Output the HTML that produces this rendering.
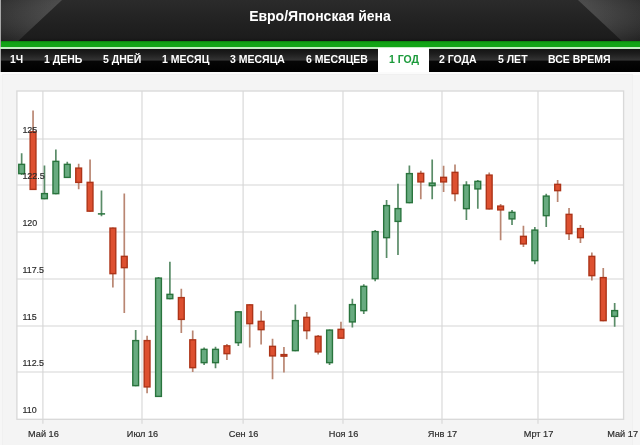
<!DOCTYPE html>
<html lang="ru"><head><meta charset="utf-8"><title>Евро/Японская йена</title>
<style>
html,body{margin:0;padding:0}
body{width:640px;height:445px;overflow:hidden;background:#f6f6f6;font-family:"Liberation Sans",sans-serif;position:relative}
.hdr{position:absolute;left:1px;top:0;width:639px;height:42px;background:linear-gradient(#2b2b2b,#222 50%,#1c1c1c 90%,#131313 100%);overflow:hidden}
.hdr svg{position:absolute;left:0;top:0}
.ttl{will-change:transform;position:absolute;left:0;top:8px;width:640px;text-align:center;color:#fff;font-weight:bold;font-size:14px;line-height:17px}
.grn{position:absolute;left:1px;top:41.4px;width:639px;height:5.5px;background:linear-gradient(#0c800e 0%,#12a416 30%,#12a416 100%)}
.wl{position:absolute;left:0;top:46.9px;width:640px;height:1.8px;background:#c4efc4}
.nav{position:absolute;left:1px;top:48.6px;width:639px;height:23.4px;background:linear-gradient(#131313 0%,#1d1d1d 20%,#333 48%,#060606 53%,#000 100%)}
.nav span{will-change:transform;position:absolute;top:0;height:23.4px;line-height:21.5px;color:#fff;font-weight:bold;font-size:10.5px;white-space:nowrap}
.nav span.act{color:#1a9a3a}
.actbg{position:absolute;left:378px;top:47.5px;width:51px;height:25px;background:#fff}
.panel{position:absolute;left:2px;top:74px;width:629px;height:372px;background:#f4f4f4;border:1px solid #f0f0f0}
.wstrip{position:absolute;left:0;top:72px;width:640px;height:3px;background:#fbfbfb}
.chart{position:absolute;left:0;top:75px;will-change:transform}
.lab{font-family:"Liberation Sans",sans-serif;font-size:9.9px;fill:#2c2c2c;stroke:#2c2c2c;stroke-width:0.2px}
</style></head><body>
<div style="position:absolute;left:0;top:0;width:1px;height:72px;background:#a8a8a8"></div>
<div class="hdr">
<svg width="639" height="42" viewBox="1 0 639 42">
<defs>
<linearGradient id="sl" x1="0" y1="0" x2="1" y2="0"><stop offset="0" stop-color="#2a2a2a"/><stop offset="1" stop-color="#474747"/></linearGradient>
<linearGradient id="sr" x1="1" y1="0" x2="0" y2="0"><stop offset="0" stop-color="#2a2a2a"/><stop offset="1" stop-color="#474747"/></linearGradient>
<linearGradient id="sv" x1="0" y1="0" x2="0" y2="1"><stop offset="0" stop-color="#fff" stop-opacity="0.03"/><stop offset="1" stop-color="#000" stop-opacity="0.22"/></linearGradient>
</defs>
<polygon points="0,0 62,0 17,42 0,42" fill="url(#sl)"/>
<polygon points="640,0 578,0 623,42 640,42" fill="url(#sr)"/>
<polygon points="0,0 62,0 17,42 0,42" fill="url(#sv)"/>
<polygon points="640,0 578,0 623,42 640,42" fill="url(#sv)"/>
</svg>
</div>
<div class="ttl">Евро/Японская йена</div>
<div class="grn"></div><div class="wl"></div>
<div class="nav"></div>
<div class="actbg"></div>
<div class="nav" style="background:none"><span style="left:9.4px">1Ч</span><span style="left:43.2px">1 ДЕНЬ</span><span style="left:102.3px">5 ДНЕЙ</span><span style="left:161.4px">1 МЕСЯЦ</span><span style="left:229.4px">3 МЕСЯЦА</span><span style="left:305.3px">6 МЕСЯЦЕВ</span><span class="act" style="left:388.2px">1 ГОД</span><span style="left:438.4px">2 ГОДА</span><span style="left:496.5px">5 ЛЕТ</span><span style="left:546.6px">ВСЕ ВРЕМЯ</span></div>
<div class="wstrip"></div>
<div class="panel"></div>
<svg class="chart" width="640" height="370" viewBox="0 75 640 370">
<rect x="16.9" y="91.0" width="606.7" height="328.3" fill="#fff"/>
<line x1="16.9" y1="139.0" x2="623.6" y2="139.0" stroke="#d6d6d6" stroke-width="1.1"/>
<line x1="16.9" y1="185.0" x2="623.6" y2="185.0" stroke="#d6d6d6" stroke-width="1.1"/>
<line x1="16.9" y1="232.0" x2="623.6" y2="232.0" stroke="#d6d6d6" stroke-width="1.1"/>
<line x1="16.9" y1="279.0" x2="623.6" y2="279.0" stroke="#d6d6d6" stroke-width="1.1"/>
<line x1="16.9" y1="326.0" x2="623.6" y2="326.0" stroke="#d6d6d6" stroke-width="1.1"/>
<line x1="16.9" y1="372.0" x2="623.6" y2="372.0" stroke="#d6d6d6" stroke-width="1.1"/>
<line x1="42.9" y1="91.0" x2="42.9" y2="423.8" stroke="#d6d6d6" stroke-width="1.1"/>
<line x1="142.0" y1="91.0" x2="142.0" y2="423.8" stroke="#d6d6d6" stroke-width="1.1"/>
<line x1="243.1" y1="91.0" x2="243.1" y2="423.8" stroke="#d6d6d6" stroke-width="1.1"/>
<line x1="343.0" y1="91.0" x2="343.0" y2="423.8" stroke="#d6d6d6" stroke-width="1.1"/>
<line x1="442.0" y1="91.0" x2="442.0" y2="423.8" stroke="#d6d6d6" stroke-width="1.1"/>
<line x1="538.0" y1="91.0" x2="538.0" y2="423.8" stroke="#d6d6d6" stroke-width="1.1"/>
<rect x="16.9" y="91.0" width="606.7" height="328.3" fill="none" stroke="#d9d9d9" stroke-width="1.35"/>
<line x1="21.65" y1="153.25" x2="21.65" y2="175" stroke="#5a8c68" stroke-width="1.7"/>
<rect x="18.75" y="164.35" width="5.8" height="9.30" fill="#68ab80" stroke="#29743d" stroke-width="1.4"/>
<line x1="33.05" y1="110.5" x2="33.05" y2="190" stroke="#b98672" stroke-width="1.7"/>
<rect x="30.15" y="131.85" width="5.8" height="57.55" fill="#dd5030" stroke="#ad3418" stroke-width="1.4"/>
<line x1="44.46" y1="165.5" x2="44.46" y2="199.25" stroke="#5a8c68" stroke-width="1.7"/>
<rect x="41.56" y="193.60" width="5.8" height="5.05" fill="#68ab80" stroke="#29743d" stroke-width="1.4"/>
<line x1="55.86" y1="149.5" x2="55.86" y2="194.25" stroke="#5a8c68" stroke-width="1.7"/>
<rect x="52.96" y="161.35" width="5.8" height="32.30" fill="#68ab80" stroke="#29743d" stroke-width="1.4"/>
<line x1="67.27" y1="161.75" x2="67.27" y2="178" stroke="#5a8c68" stroke-width="1.7"/>
<rect x="64.37" y="164.35" width="5.8" height="13.05" fill="#68ab80" stroke="#29743d" stroke-width="1.4"/>
<line x1="78.67" y1="163.75" x2="78.67" y2="189.25" stroke="#b98672" stroke-width="1.7"/>
<rect x="75.77" y="168.10" width="5.8" height="14.30" fill="#dd5030" stroke="#ad3418" stroke-width="1.4"/>
<line x1="90.07" y1="159.5" x2="90.07" y2="211.75" stroke="#b98672" stroke-width="1.7"/>
<rect x="87.17" y="182.35" width="5.8" height="28.80" fill="#dd5030" stroke="#ad3418" stroke-width="1.4"/>
<line x1="101.48" y1="190.5" x2="101.48" y2="216.25" stroke="#5a8c68" stroke-width="1.7"/>
<rect x="98.58" y="213.85" width="5.8" height="0.10" fill="#68ab80" stroke="#29743d" stroke-width="1.4"/>
<line x1="112.88" y1="227.5" x2="112.88" y2="287.5" stroke="#b98672" stroke-width="1.7"/>
<rect x="109.98" y="228.10" width="5.8" height="45.55" fill="#dd5030" stroke="#ad3418" stroke-width="1.4"/>
<line x1="124.29" y1="193.5" x2="124.29" y2="313" stroke="#b98672" stroke-width="1.7"/>
<rect x="121.39" y="256.35" width="5.8" height="11.30" fill="#dd5030" stroke="#ad3418" stroke-width="1.4"/>
<line x1="135.69" y1="330" x2="135.69" y2="386.25" stroke="#5a8c68" stroke-width="1.7"/>
<rect x="132.79" y="340.60" width="5.8" height="45.05" fill="#68ab80" stroke="#29743d" stroke-width="1.4"/>
<line x1="147.09" y1="335.75" x2="147.09" y2="393.25" stroke="#b98672" stroke-width="1.7"/>
<rect x="144.19" y="340.60" width="5.8" height="46.30" fill="#dd5030" stroke="#ad3418" stroke-width="1.4"/>
<line x1="158.50" y1="277" x2="158.50" y2="397" stroke="#5a8c68" stroke-width="1.7"/>
<rect x="155.60" y="278.10" width="5.8" height="118.30" fill="#68ab80" stroke="#29743d" stroke-width="1.4"/>
<line x1="169.90" y1="261.75" x2="169.90" y2="299.25" stroke="#5a8c68" stroke-width="1.7"/>
<rect x="167.00" y="294.35" width="5.8" height="4.30" fill="#68ab80" stroke="#29743d" stroke-width="1.4"/>
<line x1="181.31" y1="288.75" x2="181.31" y2="333" stroke="#b98672" stroke-width="1.7"/>
<rect x="178.41" y="297.60" width="5.8" height="21.80" fill="#dd5030" stroke="#ad3418" stroke-width="1.4"/>
<line x1="192.71" y1="330.5" x2="192.71" y2="372" stroke="#b98672" stroke-width="1.7"/>
<rect x="189.81" y="339.85" width="5.8" height="27.80" fill="#dd5030" stroke="#ad3418" stroke-width="1.4"/>
<line x1="204.11" y1="347.5" x2="204.11" y2="365" stroke="#5a8c68" stroke-width="1.7"/>
<rect x="201.21" y="349.35" width="5.8" height="13.30" fill="#68ab80" stroke="#29743d" stroke-width="1.4"/>
<line x1="215.52" y1="346.75" x2="215.52" y2="368.25" stroke="#5a8c68" stroke-width="1.7"/>
<rect x="212.62" y="349.35" width="5.8" height="13.30" fill="#68ab80" stroke="#29743d" stroke-width="1.4"/>
<line x1="226.92" y1="344" x2="226.92" y2="360" stroke="#b98672" stroke-width="1.7"/>
<rect x="224.02" y="345.85" width="5.8" height="7.80" fill="#dd5030" stroke="#ad3418" stroke-width="1.4"/>
<line x1="238.33" y1="311.25" x2="238.33" y2="346" stroke="#5a8c68" stroke-width="1.7"/>
<rect x="235.43" y="311.85" width="5.8" height="30.80" fill="#68ab80" stroke="#29743d" stroke-width="1.4"/>
<line x1="249.73" y1="304.25" x2="249.73" y2="347.5" stroke="#b98672" stroke-width="1.7"/>
<rect x="246.83" y="304.85" width="5.8" height="18.80" fill="#dd5030" stroke="#ad3418" stroke-width="1.4"/>
<line x1="261.13" y1="310.75" x2="261.13" y2="344.5" stroke="#b98672" stroke-width="1.7"/>
<rect x="258.23" y="321.35" width="5.8" height="8.30" fill="#dd5030" stroke="#ad3418" stroke-width="1.4"/>
<line x1="272.54" y1="338.75" x2="272.54" y2="379.25" stroke="#b98672" stroke-width="1.7"/>
<rect x="269.64" y="346.35" width="5.8" height="9.55" fill="#dd5030" stroke="#ad3418" stroke-width="1.4"/>
<line x1="283.94" y1="347" x2="283.94" y2="372.5" stroke="#b98672" stroke-width="1.7"/>
<rect x="281.04" y="354.60" width="5.8" height="1.55" fill="#dd5030" stroke="#ad3418" stroke-width="1.4"/>
<line x1="295.35" y1="304.5" x2="295.35" y2="351.25" stroke="#5a8c68" stroke-width="1.7"/>
<rect x="292.45" y="320.60" width="5.8" height="30.05" fill="#68ab80" stroke="#29743d" stroke-width="1.4"/>
<line x1="306.75" y1="312" x2="306.75" y2="339.25" stroke="#b98672" stroke-width="1.7"/>
<rect x="303.85" y="317.35" width="5.8" height="13.30" fill="#dd5030" stroke="#ad3418" stroke-width="1.4"/>
<line x1="318.15" y1="335" x2="318.15" y2="354.5" stroke="#b98672" stroke-width="1.7"/>
<rect x="315.25" y="336.35" width="5.8" height="15.55" fill="#dd5030" stroke="#ad3418" stroke-width="1.4"/>
<line x1="329.56" y1="329.5" x2="329.56" y2="365" stroke="#5a8c68" stroke-width="1.7"/>
<rect x="326.66" y="330.10" width="5.8" height="32.55" fill="#68ab80" stroke="#29743d" stroke-width="1.4"/>
<line x1="340.96" y1="321.75" x2="340.96" y2="338.75" stroke="#b98672" stroke-width="1.7"/>
<rect x="338.06" y="329.35" width="5.8" height="8.80" fill="#dd5030" stroke="#ad3418" stroke-width="1.4"/>
<line x1="352.37" y1="298.75" x2="352.37" y2="327.5" stroke="#5a8c68" stroke-width="1.7"/>
<rect x="349.47" y="304.60" width="5.8" height="17.30" fill="#68ab80" stroke="#29743d" stroke-width="1.4"/>
<line x1="363.77" y1="284.25" x2="363.77" y2="314" stroke="#5a8c68" stroke-width="1.7"/>
<rect x="360.87" y="286.35" width="5.8" height="24.30" fill="#68ab80" stroke="#29743d" stroke-width="1.4"/>
<line x1="375.17" y1="230" x2="375.17" y2="281.25" stroke="#5a8c68" stroke-width="1.7"/>
<rect x="372.27" y="231.60" width="5.8" height="47.05" fill="#68ab80" stroke="#29743d" stroke-width="1.4"/>
<line x1="386.58" y1="200" x2="386.58" y2="258" stroke="#5a8c68" stroke-width="1.7"/>
<rect x="383.68" y="205.60" width="5.8" height="32.05" fill="#68ab80" stroke="#29743d" stroke-width="1.4"/>
<line x1="397.98" y1="183.75" x2="397.98" y2="255" stroke="#5a8c68" stroke-width="1.7"/>
<rect x="395.08" y="208.60" width="5.8" height="12.80" fill="#68ab80" stroke="#29743d" stroke-width="1.4"/>
<line x1="409.39" y1="165.5" x2="409.39" y2="203.25" stroke="#5a8c68" stroke-width="1.7"/>
<rect x="406.49" y="173.60" width="5.8" height="29.05" fill="#68ab80" stroke="#29743d" stroke-width="1.4"/>
<line x1="420.79" y1="170.75" x2="420.79" y2="199.25" stroke="#b98672" stroke-width="1.7"/>
<rect x="417.89" y="173.35" width="5.8" height="8.55" fill="#dd5030" stroke="#ad3418" stroke-width="1.4"/>
<line x1="432.19" y1="159.5" x2="432.19" y2="199.25" stroke="#5a8c68" stroke-width="1.7"/>
<rect x="429.29" y="183.10" width="5.8" height="2.55" fill="#68ab80" stroke="#29743d" stroke-width="1.4"/>
<line x1="443.60" y1="165.75" x2="443.60" y2="192" stroke="#b98672" stroke-width="1.7"/>
<rect x="440.70" y="177.35" width="5.8" height="4.55" fill="#dd5030" stroke="#ad3418" stroke-width="1.4"/>
<line x1="455.00" y1="164.5" x2="455.00" y2="201.25" stroke="#b98672" stroke-width="1.7"/>
<rect x="452.10" y="172.35" width="5.8" height="21.30" fill="#dd5030" stroke="#ad3418" stroke-width="1.4"/>
<line x1="466.41" y1="181.25" x2="466.41" y2="220" stroke="#5a8c68" stroke-width="1.7"/>
<rect x="463.51" y="185.10" width="5.8" height="23.55" fill="#68ab80" stroke="#29743d" stroke-width="1.4"/>
<line x1="477.81" y1="180" x2="477.81" y2="208.75" stroke="#5a8c68" stroke-width="1.7"/>
<rect x="474.91" y="181.35" width="5.8" height="7.55" fill="#68ab80" stroke="#29743d" stroke-width="1.4"/>
<line x1="489.21" y1="172.5" x2="489.21" y2="209.5" stroke="#b98672" stroke-width="1.7"/>
<rect x="486.31" y="175.10" width="5.8" height="33.80" fill="#dd5030" stroke="#ad3418" stroke-width="1.4"/>
<line x1="500.62" y1="204" x2="500.62" y2="240.25" stroke="#b98672" stroke-width="1.7"/>
<rect x="497.72" y="206.10" width="5.8" height="3.80" fill="#dd5030" stroke="#ad3418" stroke-width="1.4"/>
<line x1="512.02" y1="210" x2="512.02" y2="225" stroke="#5a8c68" stroke-width="1.7"/>
<rect x="509.12" y="212.35" width="5.8" height="6.55" fill="#68ab80" stroke="#29743d" stroke-width="1.4"/>
<line x1="523.43" y1="225.75" x2="523.43" y2="247" stroke="#b98672" stroke-width="1.7"/>
<rect x="520.53" y="236.35" width="5.8" height="7.55" fill="#dd5030" stroke="#ad3418" stroke-width="1.4"/>
<line x1="534.83" y1="227" x2="534.83" y2="264.25" stroke="#5a8c68" stroke-width="1.7"/>
<rect x="531.93" y="230.10" width="5.8" height="30.55" fill="#68ab80" stroke="#29743d" stroke-width="1.4"/>
<line x1="546.23" y1="193.75" x2="546.23" y2="227" stroke="#5a8c68" stroke-width="1.7"/>
<rect x="543.33" y="196.10" width="5.8" height="19.55" fill="#68ab80" stroke="#29743d" stroke-width="1.4"/>
<line x1="557.64" y1="180" x2="557.64" y2="202" stroke="#b98672" stroke-width="1.7"/>
<rect x="554.74" y="184.35" width="5.8" height="6.30" fill="#dd5030" stroke="#ad3418" stroke-width="1.4"/>
<line x1="569.04" y1="208" x2="569.04" y2="240" stroke="#b98672" stroke-width="1.7"/>
<rect x="566.14" y="214.35" width="5.8" height="19.30" fill="#dd5030" stroke="#ad3418" stroke-width="1.4"/>
<line x1="580.45" y1="225" x2="580.45" y2="243" stroke="#b98672" stroke-width="1.7"/>
<rect x="577.55" y="228.60" width="5.8" height="9.05" fill="#dd5030" stroke="#ad3418" stroke-width="1.4"/>
<line x1="591.85" y1="252.5" x2="591.85" y2="280.5" stroke="#b98672" stroke-width="1.7"/>
<rect x="588.95" y="256.35" width="5.8" height="19.30" fill="#dd5030" stroke="#ad3418" stroke-width="1.4"/>
<line x1="603.25" y1="268" x2="603.25" y2="321.25" stroke="#b98672" stroke-width="1.7"/>
<rect x="600.35" y="277.60" width="5.8" height="43.05" fill="#dd5030" stroke="#ad3418" stroke-width="1.4"/>
<line x1="614.66" y1="303" x2="614.66" y2="326.75" stroke="#5a8c68" stroke-width="1.7"/>
<rect x="611.76" y="310.60" width="5.8" height="5.80" fill="#68ab80" stroke="#29743d" stroke-width="1.4"/>
<text transform="translate(22.4,133.1) scale(0.9,1)" class="lab">125</text>
<text transform="translate(22.4,179.1) scale(0.9,1)" class="lab">122.5</text>
<text transform="translate(22.4,226.1) scale(0.9,1)" class="lab">120</text>
<text transform="translate(22.4,273.1) scale(0.9,1)" class="lab">117.5</text>
<text transform="translate(22.4,320.1) scale(0.9,1)" class="lab">115</text>
<text transform="translate(22.4,366.1) scale(0.9,1)" class="lab">112.5</text>
<text transform="translate(22.4,413.1) scale(0.9,1)" class="lab">110</text>
<text transform="translate(43.4,437) scale(0.93,1)" class="lab" text-anchor="middle">Май 16</text>
<text transform="translate(142.5,437) scale(0.93,1)" class="lab" text-anchor="middle">Июл 16</text>
<text transform="translate(243.6,437) scale(0.93,1)" class="lab" text-anchor="middle">Сен 16</text>
<text transform="translate(343.5,437) scale(0.93,1)" class="lab" text-anchor="middle">Ноя 16</text>
<text transform="translate(442.5,437) scale(0.93,1)" class="lab" text-anchor="middle">Янв 17</text>
<text transform="translate(538.5,437) scale(0.93,1)" class="lab" text-anchor="middle">Мрт 17</text>
<text transform="translate(638,437) scale(0.93,1)" class="lab" text-anchor="end">Май 17</text>
</svg>
</body></html>
